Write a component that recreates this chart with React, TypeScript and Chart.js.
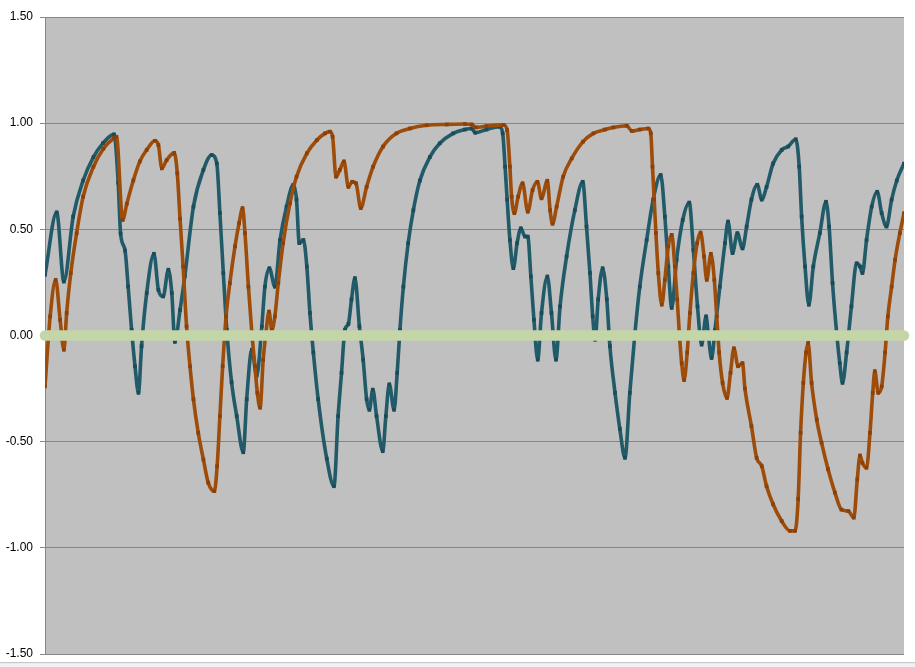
import React, { useEffect, useRef } from "react";
import { Chart, registerables } from "chart.js";

Chart.register(...registerables);

// time (sample units 0..250) and value pairs
const tealSeries: [number, number][] = [
  [0, 0.285], [3.4, 0.58], [5.5, 0.254], [8.2, 0.56], [11.1, 0.73], [14.1, 0.84], [16.9, 0.906], [20.1, 0.947],
  [21.3, 0.72], [22.0, 0.48], [23.3, 0.4], [24.2, 0.23], [25.2, 0.027], [26.2, -0.145], [27.2, -0.27], [28.1, -0.05],
  [29.6, 0.2], [31.7, 0.385], [33.0, 0.215], [34.4, 0.184], [35.9, 0.31], [36.9, 0.2], [37.8, -0.03], [39.3, 0.12],
  [40.7, 0.28], [43.2, 0.607], [46.1, 0.78], [48.5, 0.85], [50.0, 0.81], [50.9, 0.577], [51.9, 0.294], [52.9, 0.027],
  [54.3, -0.22], [55.8, -0.38], [57.7, -0.55], [58.7, -0.3], [60.2, -0.067], [61.6, -0.19], [63.1, 0.043], [64.0, 0.23],
  [65.3, 0.317], [66.9, 0.23], [68.4, 0.45], [70.3, 0.607], [72.3, 0.71], [73.2, 0.64], [74.0, 0.435], [75.2, 0.45],
  [76.2, 0.325], [77.1, 0.106], [78.1, -0.08], [79.5, -0.3], [82.0, -0.58], [84.1, -0.71], [85.3, -0.38], [86.3, -0.176],
  [87.3, 0.027], [88.3, 0.055], [89.2, 0.17], [90.2, 0.27], [91.5, 0.043], [92.6, -0.114], [93.6, -0.3], [94.4, -0.35],
  [95.4, -0.255], [96.5, -0.38], [98.3, -0.545], [99.2, -0.38], [100.2, -0.23], [101.6, -0.35], [102.5, -0.176], [103.3, 0.027],
  [104.3, 0.23], [105.7, 0.435], [107.2, 0.59], [109.1, 0.73], [112.0, 0.84], [114.9, 0.905], [118.8, 0.952], [122.2, 0.97],
  [124.2, 0.975], [125.2, 0.955], [128.5, 0.97], [132.2, 0.983], [133.2, 0.952], [133.9, 0.795], [134.5, 0.64], [135.3, 0.45],
  [136.3, 0.317], [137.4, 0.435], [138.5, 0.505], [139.7, 0.466], [140.5, 0.466], [141.4, 0.278], [142.3, 0.074], [143.4, -0.114],
  [144.5, 0.106], [146.2, 0.278], [147.4, 0.106], [148.7, -0.114], [149.9, 0.137], [151.8, 0.372], [154.2, 0.59], [156.5, 0.724],
  [157.6, 0.513], [158.6, 0.294], [159.4, 0.09], [160.1, -0.02], [161.0, 0.17], [162.3, 0.317], [163.5, 0.17], [164.4, -0.05],
  [165.9, -0.27], [167.3, -0.44], [168.8, -0.576], [170.2, -0.27], [171.7, 0.012], [173.1, 0.23], [175.1, 0.45], [177.0, 0.64],
  [179.2, 0.756], [180.4, 0.56], [181.4, 0.325], [182.4, 0.13], [183.8, 0.356], [185.6, 0.544], [187.5, 0.626], [188.7, 0.403],
  [189.9, 0.137], [191.1, -0.043], [192.4, 0.09], [193.0, 0.012], [194.0, -0.106], [195.0, 0.027], [196.4, 0.23], [197.9, 0.435],
  [198.8, 0.537], [200.1, 0.388], [201.5, 0.482], [203.0, 0.41], [204.2, 0.513], [205.6, 0.64], [207.3, 0.71], [208.6, 0.64],
  [210.0, 0.7], [211.9, 0.81], [214.4, 0.874], [216.3, 0.89], [218.5, 0.924], [219.5, 0.795], [220.2, 0.56], [221.2, 0.325],
  [222.3, 0.145], [223.6, 0.325], [225.5, 0.482], [227.3, 0.63], [228.2, 0.513], [229.2, 0.247], [230.4, 0.012], [231.3, -0.13],
  [232.1, -0.223], [233.3, -0.08], [234.7, 0.137], [236.2, 0.34], [237.2, 0.325], [237.9, 0.294], [239.1, 0.45], [240.6, 0.607],
  [242.2, 0.677], [243.5, 0.576], [244.9, 0.513], [246.4, 0.64], [247.9, 0.73], [250, 0.81],
];

const orangeSeries: [number, number][] = [
  [0, -0.24], [1.5, 0.09], [3.1, 0.262], [4.4, 0.074], [5.5, -0.067], [6.3, 0.106], [7.5, 0.294], [9.2, 0.482],
  [11.1, 0.654], [14.1, 0.795], [17.0, 0.88], [20.1, 0.93], [20.8, 0.936], [22.6, 0.544], [23.8, 0.62], [25.7, 0.73],
  [27.6, 0.82], [29.6, 0.874], [32.0, 0.917], [33.0, 0.897], [34.0, 0.787], [35.4, 0.826], [37.6, 0.86], [38.5, 0.764],
  [39.3, 0.55], [40.2, 0.325], [41.2, 0.043], [42.2, -0.145], [43.2, -0.3], [44.6, -0.458], [46.1, -0.584], [47.5, -0.693],
  [49.3, -0.733], [50.1, -0.615], [50.9, -0.38], [51.7, -0.145], [52.7, 0.09], [53.8, 0.247], [55.3, 0.42], [56.5, 0.53],
  [57.5, 0.6], [58.2, 0.482], [59.2, 0.23], [60.2, 0.012], [61.1, -0.145], [61.8, -0.27], [62.6, -0.34], [63.5, -0.114],
  [64.3, 0.012], [65.2, 0.113], [66.0, 0.027], [66.9, 0.09], [67.9, 0.247], [69.3, 0.435], [71.3, 0.623], [73.2, 0.748],
  [76.2, 0.858], [79.1, 0.92], [81.5, 0.952], [82.9, 0.96], [83.7, 0.936], [84.7, 0.748], [85.8, 0.78], [87.0, 0.82],
  [88.3, 0.7], [89.4, 0.724], [90.5, 0.717], [91.9, 0.6], [93.6, 0.7], [95.5, 0.795], [98.4, 0.89], [102.3, 0.952],
  [106.2, 0.975], [111.1, 0.99], [116.9, 0.994], [122.2, 0.996], [124.2, 0.994], [125.4, 0.98], [128.5, 0.986], [133.4, 0.992],
  [134.5, 0.967], [135.3, 0.795], [135.8, 0.654], [136.6, 0.576], [137.7, 0.654], [139.0, 0.717], [140.5, 0.583], [141.9, 0.685],
  [143.3, 0.724], [144.5, 0.646], [146.2, 0.729], [147.0, 0.59], [147.7, 0.526], [148.9, 0.607], [150.8, 0.748], [153.3, 0.834],
  [156.6, 0.913], [159.6, 0.952], [163.0, 0.97], [165.4, 0.98], [169.3, 0.988], [170.8, 0.963], [173.1, 0.97], [175.6, 0.975],
  [176.3, 0.952], [176.8, 0.795], [177.3, 0.64], [177.8, 0.482], [178.5, 0.294], [179.5, 0.145], [180.4, 0.262], [181.4, 0.42],
  [182.4, 0.474], [183.3, 0.325], [184.0, 0.17], [184.6, 0.012], [185.3, -0.13], [186.0, -0.21], [186.9, -0.08], [187.7, 0.106],
  [188.7, 0.294], [189.8, 0.435], [190.8, 0.485], [191.8, 0.372], [192.6, 0.262], [193.8, 0.385], [194.8, 0.262], [195.5, 0.09],
  [196.2, -0.08], [197.2, -0.223], [198.5, -0.294], [199.5, -0.176], [200.5, -0.06], [201.7, -0.145], [203.0, -0.13], [203.7, -0.25],
  [205.6, -0.427], [207.1, -0.576], [208.6, -0.615], [210.0, -0.71], [211.9, -0.795], [214.4, -0.874], [216.8, -0.92], [218.3, -0.92],
  [219.2, -0.77], [219.9, -0.458], [220.7, -0.223], [221.5, -0.08], [222.1, -0.035], [223.1, -0.223], [224.6, -0.396], [226.0, -0.505],
  [227.9, -0.63], [229.9, -0.74], [231.8, -0.82], [233.8, -0.827], [235.4, -0.858], [236.4, -0.678], [237.2, -0.565], [237.9, -0.6],
  [239.1, -0.623], [240.1, -0.458], [240.9, -0.27], [241.5, -0.168], [242.5, -0.27], [243.5, -0.24], [244.5, -0.08], [245.3, 0.09],
  [246.4, 0.23], [247.4, 0.356], [248.8, 0.482], [250, 0.576],
];

const zeroSeries: [number, number][] = [[0, 0], [250, 0]];

const yTicks = [-1.5, -1.0, -0.5, 0, 0.5, 1.0, 1.5];

const TEAL = "#215A68";
const TEAL_MARK = "#1B4B57";
const ORANGE = "#9E4C0A";
const ORANGE_MARK = "#8A4008";
const GREEN = "#C4D5A8";

const toPts = (s: [number, number][]) => s.map(([x, y]) => ({ x, y }));

const bgPlugin = {
  id: "bgPlugin",
  beforeDraw(chart: any) {
    const { ctx, chartArea, width, height } = chart;
    ctx.save();
    ctx.fillStyle = "#FFFFFF";
    ctx.fillRect(0, 0, width, height);
    ctx.fillStyle = "#C0C0C0";
    ctx.fillRect(chartArea.left, chartArea.top, chartArea.right - chartArea.left, chartArea.bottom - chartArea.top);
    ctx.restore();
  },
  afterDraw(chart: any) {
    const { ctx, width } = chart;
    ctx.save();
    ctx.fillStyle = "#C8C8C8";
    ctx.fillRect(0, 662, width, 1.5);
    ctx.fillStyle = "#F2F2F2";
    ctx.fillRect(0, 663.5, width, 4);
    ctx.restore();
  },
};

export default function App() {
  const ref = useRef<HTMLCanvasElement | null>(null);
  useEffect(() => {
    if (!ref.current) return;
    const chart = new Chart(ref.current, {
      type: "line",
      data: {
        datasets: [
          {
            label: "zero",
            data: toPts(zeroSeries),
            borderColor: GREEN,
            borderWidth: 10.5,
            borderCapStyle: "round",
            pointRadius: 0,
            clip: 10,
            order: 0,
          } as any,
          {
            label: "B",
            data: toPts(orangeSeries),
            borderColor: ORANGE,
            backgroundColor: ORANGE_MARK,
            borderWidth: 3.6,
            pointStyle: "rect",
            pointRadius: 2.6,
            pointBorderWidth: 0,
            cubicInterpolationMode: "monotone",
            order: 1,
          },
          {
            label: "A",
            data: toPts(tealSeries),
            borderColor: TEAL,
            backgroundColor: TEAL_MARK,
            borderWidth: 3.6,
            pointStyle: "rect",
            pointRadius: 2.6,
            pointBorderWidth: 0,
            cubicInterpolationMode: "monotone",
            order: 2,
          },
        ],
      },
      options: {
        animation: false,
        responsive: false,
        devicePixelRatio: 1,
        layout: { autoPadding: false, padding: { left: 0, top: 17, right: 11, bottom: 13 } },
        plugins: { legend: { display: false }, tooltip: { enabled: false } },
        scales: {
          x: { type: "linear", min: 0, max: 250, display: false },
          y: {
            type: "linear",
            min: -1.5,
            max: 1.5,
            afterBuildTicks: (scale: any) => {
              scale.ticks = yTicks.map((v) => ({ value: v }));
            },
            afterFit: (scale: any) => {
              scale.width = 45;
              scale.paddingTop = 0;
              scale.paddingBottom = 0;
            },
            ticks: {
              callback: (v: any) => Number(v).toFixed(2),
              color: "#000000",
              font: { family: "'Liberation Sans', Arial, sans-serif", size: 12, lineHeight: 0.8 },
              padding: 7,
            },
            grid: { color: "#868686", tickLength: 5, lineWidth: 1 },
            border: { color: "#868686", width: 1 },
          },
        },
      },
      plugins: [bgPlugin],
    });
    return () => chart.destroy();
  }, []);
  return (
    <div style={{ position: "absolute", left: 0, top: 0, width: 915, height: 667 }}>
      <canvas ref={ref} width={915} height={667} style={{ width: 915, height: 667 }} />
    </div>
  );
}
